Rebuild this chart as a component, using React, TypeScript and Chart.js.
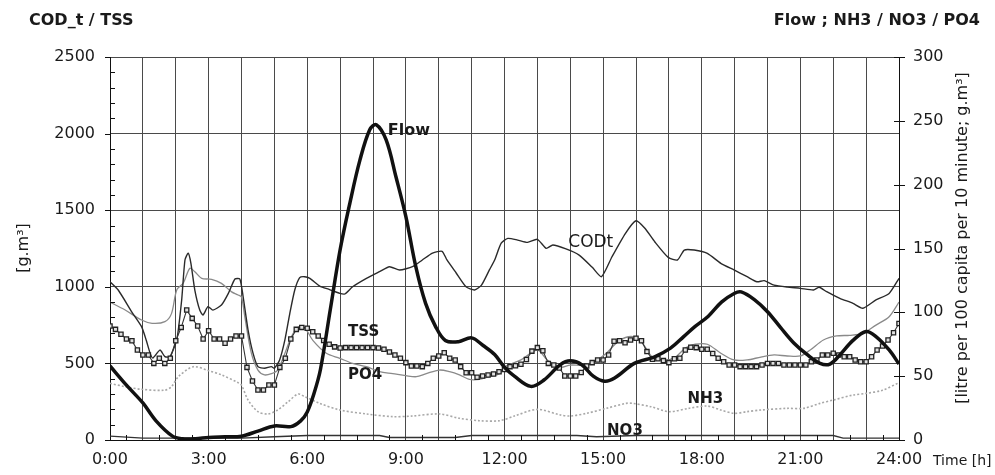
import React, { useEffect, useRef } from "react";
import { Chart, registerables } from "chart.js";

Chart.register(...registerables);

// ---------- data ----------
const flowHours = [0, 0.5, 1.0, 1.4, 1.9, 2.2, 2.6, 3.0, 3.5, 4.0, 4.5, 5.0, 5.5, 5.8, 6.0, 6.2, 6.4, 6.7, 7.0, 7.3, 7.6, 7.9, 8.1, 8.4, 8.7, 9.0, 9.3, 9.6, 9.9, 10.2, 10.6, 11.0, 11.35, 11.7, 12.0, 12.3, 12.8, 13.2, 13.7, 14.0, 14.35, 14.7, 15.05, 15.35, 15.95, 16.55, 17.05, 17.45, 17.8, 18.2, 18.6, 19.0, 19.2, 19.6, 20.0, 20.4, 20.8, 21.2, 21.6, 21.9, 22.2, 22.6, 23.0, 23.3, 23.7, 24];
const flowValues = [58, 43, 29, 15, 3, 1, 1, 2, 2.5, 3, 7, 11, 10.5, 15, 22, 36, 55, 102, 149, 186, 219, 243, 247, 235, 206, 175, 136, 107, 89, 78, 77, 80, 74, 67, 57, 50, 42, 47, 59, 62, 59, 50, 46, 48.5, 60, 65, 72, 81, 89, 97, 108, 115, 116, 110, 100.5, 88, 76, 67, 60, 59.5, 66.6, 78, 85, 81, 70.5, 59.5];

const codHours = [0, 0.25, 0.66, 0.96, 1.1, 1.22, 1.3, 1.52, 1.67, 1.82, 2.03, 2.18, 2.28, 2.38, 2.46, 2.58, 2.73, 2.83, 2.98, 3.13, 3.39, 3.6, 3.8, 3.95, 4.05, 4.2, 4.35, 4.5, 4.7, 4.91, 5.0, 5.16, 5.32, 5.47, 5.62, 5.77, 5.92, 6.08, 6.38, 6.68, 6.99, 7.14, 7.38, 7.8, 8.2, 8.5, 8.81, 9.2, 9.5, 9.81, 10.1, 10.25, 10.53, 10.83, 11.09, 11.3, 11.54, 11.7, 11.9, 12.1, 12.4, 12.7, 13.0, 13.27, 13.47, 13.87, 14.27, 14.67, 14.95, 15.27, 15.68, 16.0, 16.27, 16.57, 16.98, 17.26, 17.47, 17.77, 18.17, 18.58, 18.98, 19.38, 19.68, 19.9, 20.2, 20.6, 21.0, 21.4, 21.57, 21.8, 22.2, 22.6, 22.9, 23.3, 23.7, 24];
const codValues = [1033, 979, 837, 740, 653, 567, 535, 587, 544, 544, 653, 914, 1175, 1220, 1155, 979, 848, 816, 870, 848, 881, 957, 1051, 1051, 935, 718, 567, 479, 468, 479, 468, 522, 653, 827, 979, 1060, 1066, 1055, 1005, 982, 957, 953, 1000, 1055, 1099, 1131, 1110, 1131, 1175, 1220, 1232, 1175, 1090, 1000, 979, 1011, 1110, 1175, 1285, 1316, 1305, 1290, 1310, 1251, 1273, 1247, 1207, 1127, 1066, 1196, 1349, 1431, 1382, 1294, 1192, 1175, 1240, 1240, 1218, 1153, 1110, 1066, 1033, 1040, 1011, 998, 990, 979, 997, 968, 925, 892, 860, 914, 957, 1055];

// TSS sampled every 10 minutes, 0:00 .. 24:00
const tssValues = [
  744, 722, 690, 659, 648, 587, 555, 555, 500, 533, 500, 533,
  648, 735, 848, 794, 744, 659, 713, 659, 659, 631, 659, 679,
  679, 474, 385, 326, 326, 359, 359, 474, 533, 659, 722, 735,
  729, 707, 679, 650, 625, 608, 600, 603, 603, 603, 603, 603,
  603, 600, 592, 575, 555, 533, 505, 483, 483, 479, 500, 533,
  548, 570, 533, 522, 479, 439, 439, 409, 418, 424, 431, 445,
  460, 479, 485, 495, 525, 580, 603, 583, 500, 490, 470, 418,
  418, 418, 440, 483, 505, 522, 522, 555, 645, 648, 635, 653,
  664, 648, 577, 527, 530, 518, 505, 530, 533, 587, 605, 603,
  592, 592, 565, 533, 511, 490, 490, 479, 479, 479, 479, 490,
  500, 500, 500, 490, 490, 490, 490, 490, 511, 522, 555, 555,
  566, 555, 544, 544, 522, 511, 511, 544, 587, 613, 653, 700,
  761
];
const tssStepHours = 10 / 60;

const po4Hours = [0, 0.45, 0.96, 1.28, 1.67, 1.87, 2.03, 2.23, 2.43, 2.58, 2.79, 3.09, 3.39, 3.7, 3.9, 4.0, 4.1, 4.3, 4.5, 4.7, 4.91, 5.1, 5.32, 5.52, 5.72, 5.92, 6.17, 6.58, 6.99, 7.38, 7.8, 8.2, 8.6, 9.0, 9.32, 9.62, 10.02, 10.33, 10.63, 10.93, 11.24, 11.54, 11.85, 12.0, 12.5, 13.0, 13.3, 13.7, 14.0, 14.4, 14.8, 15.1, 15.5, 15.9, 16.2, 16.5, 16.9, 17.2, 17.5, 17.8, 18.17, 18.58, 18.98, 19.38, 19.8, 20.2, 20.6, 21.0, 21.3, 21.7, 22.1, 22.5, 22.9, 23.3, 23.7, 24];
const po4Values = [108, 102, 94, 91.4, 92.7, 99, 117.5, 123, 134.5, 131.8, 126.6, 125.9, 122.7, 116, 113.6, 112, 96.6, 68, 54.8, 51, 52, 54.8, 67.9, 81, 88.3, 88, 78, 67.9, 64, 60, 57.4, 53.5, 52, 50.4, 49.6, 52, 54.8, 53.5, 51, 47.5, 47.5, 49.6, 52, 57.4, 62.7, 70.5, 62.7, 57, 58.7, 58.7, 62.7, 68, 78, 81, 75.7, 65, 62.7, 65, 72, 75, 75, 68, 62.7, 62.7, 65, 66.6, 65.8, 65.8, 70.5, 78.3, 81.5, 82, 83.5, 90, 96.6, 108];

const nh3Hours = [0, 0.45, 0.96, 1.67, 1.87, 2.08, 2.53, 3.0, 3.39, 3.9, 4.0, 4.2, 4.5, 4.8, 5.1, 5.42, 5.72, 5.92, 6.38, 6.99, 7.8, 8.6, 9.2, 10.02, 10.63, 11.24, 11.85, 12.3, 13.0, 13.7, 14.0, 14.5, 15.1, 15.7, 15.9, 16.45, 17.0, 17.6, 18.17, 18.58, 18.98, 19.38, 19.8, 20.6, 21.1, 21.6, 22.0, 22.6, 23.0, 23.5, 24];
const nh3Values = [44.4, 41.8, 39.7, 39, 41.8, 49.6, 57.4, 54.3, 51, 44.9, 43, 31.3, 22.2, 20.4, 23.5, 30, 36, 34, 28.7, 23.5, 20.4, 18.3, 18.8, 20.4, 17, 15.1, 15.1, 18.8, 24, 19.6, 18.8, 20.9, 24.8, 28.7, 28.7, 26.1, 22.2, 24.8, 26.6, 23.5, 20.9, 22.2, 23.5, 24.8, 24.8, 28.7, 31.3, 35.2, 36.5, 39, 44.9];

const no3Hours = [0, 1.0, 2.0, 4.0, 5.0, 6.0, 8.2, 8.5, 10.5, 11.0, 14.2, 14.8, 16.0, 22.0, 22.3, 24];
const no3Values = [3, 1.5, 1.5, 1.5, 2.5, 3.5, 3.5, 2, 2, 3.5, 3.5, 2.5, 3.5, 3.5, 1.5, 1.5];

// axis ticks
const xLabelEvery = 3;
const leftMax = 2500;
const leftStep = 500;
const leftMinorStep = 100;
const rightMax = 300;
const rightStep = 50;

// in-plot series labels: text, hour, level on the left axis
const seriesLabels = [
  { text: "Flow", h: 8.45, v: 2017, bold: true, size: 16 },
  { text: "CODt", h: 13.94, v: 1286, bold: false, size: 17 },
  { text: "TSS", h: 7.24, v: 702, bold: true, size: 15 },
  { text: "PO4", h: 7.24, v: 424, bold: true, size: 15 },
  { text: "NH3", h: 17.57, v: 264, bold: true, size: 15 },
  { text: "NO3", h: 15.12, v: 61, bold: true, size: 15 },
];

const FONT = "'DejaVu Sans', 'Liberation Sans', sans-serif";

const zip = (xs: number[], ys: number[]) => xs.map((x, i) => ({ x, y: ys[i] }));

const decorPlugin = {
  id: "decor",
  afterDraw(chart: any) {
    const { ctx, chartArea, scales } = chart;
    const xs = scales.x, ys = scales.y, y1 = scales.y1;
    const { left, right, bottom } = chartArea;
    ctx.save();
    ctx.strokeStyle = "#111";
    ctx.lineWidth = 1;
    ctx.beginPath();
    for (let v = 0; v <= leftMax; v += leftMinorStep) {
      const py = Math.round(ys.getPixelForValue(v)) + 0.5;
      if (v % leftStep === 0) {
        ctx.moveTo(left - 5, py);
        ctx.lineTo(left, py);
      } else {
        ctx.moveTo(left, py);
        ctx.lineTo(left + 5, py);
      }
    }
    for (let v = 0; v <= rightMax; v += rightStep) {
      const py = Math.round(y1.getPixelForValue(v)) + 0.5;
      ctx.moveTo(right - 5, py);
      ctx.lineTo(right + 6, py);
    }
    for (let h = 0.5; h < 24; h += 1) {
      const px = Math.round(xs.getPixelForValue(h)) + 0.5;
      ctx.moveTo(px, bottom);
      ctx.lineTo(px, bottom - 5);
    }
    ctx.stroke();

    ctx.fillStyle = "#1a1a1a";
    ctx.textBaseline = "middle";
    // top titles
    ctx.font = `bold 16px ${FONT}`;
    ctx.textAlign = "left";
    ctx.fillText("COD_t / TSS", 29, 21);
    ctx.textAlign = "right";
    ctx.fillText("Flow ; NH3 / NO3 / PO4", 980, 21);

    // axis titles
    ctx.font = `16px ${FONT}`;
    ctx.textAlign = "center";
    ctx.save();
    ctx.translate(24, 248);
    ctx.rotate(-Math.PI / 2);
    ctx.fillText("[g.m³]", 0, 0);
    ctx.restore();
    ctx.save();
    ctx.translate(963, 238);
    ctx.rotate(-Math.PI / 2);
    ctx.fillText("[litre per 100 capita per 10 minute; g.m³]", 0, 0);
    ctx.restore();

    ctx.font = `14px ${FONT}`;
    ctx.textAlign = "left";
    ctx.fillText("Time [h]", 933, 461);

    // series labels
    for (const l of seriesLabels) {
      ctx.font = `${l.bold ? "bold " : ""}${l.size}px ${FONT}`;
      ctx.fillText(l.text, xs.getPixelForValue(l.h), ys.getPixelForValue(l.v));
    }
    ctx.restore();
  },
};

export default function App() {
  const ref = useRef<HTMLCanvasElement>(null);
  useEffect(() => {
    const canvas = ref.current!;
    const chart = new Chart(canvas, {
      type: "line",
      data: {
        datasets: [
          {
            label: "Flow",
            data: zip(flowHours, flowValues),
            yAxisID: "y1",
            borderColor: "#111",
            borderWidth: 3.5,
            pointRadius: 0,
            tension: 0.35,
          },
          {
            label: "TSS",
            data: tssValues.map((v, i) => ({ x: i * tssStepHours, y: v })),
            yAxisID: "y",
            borderColor: "#333",
            borderWidth: 1.1,
            pointStyle: "rect",
            pointRadius: 3,
            pointBorderWidth: 1.3,
            pointBorderColor: "#222",
            pointBackgroundColor: "#e0e0e0",
            tension: 0,
          },
          {
            label: "CODt",
            data: zip(codHours, codValues),
            yAxisID: "y",
            borderColor: "#2a2a2a",
            borderWidth: 1.4,
            pointRadius: 0,
            tension: 0.2,
          },
          {
            label: "PO4",
            data: zip(po4Hours, po4Values),
            yAxisID: "y1",
            borderColor: "#8a8a8a",
            borderWidth: 1.3,
            pointRadius: 0,
            tension: 0.3,
          },
          {
            label: "NH3",
            data: zip(nh3Hours, nh3Values),
            yAxisID: "y1",
            borderColor: "#a8a8a8",
            borderWidth: 1.6,
            borderDash: [2, 2],
            pointRadius: 0,
            tension: 0.3,
          },
          {
            label: "NO3",
            data: zip(no3Hours, no3Values),
            yAxisID: "y1",
            borderColor: "#333",
            borderWidth: 1.4,
            pointRadius: 0,
            tension: 0,
          },
        ],
      },
      options: {
        animation: false,
        responsive: false,
        layout: { padding: { top: 57, left: 0, right: 0, bottom: 0 } },
        plugins: { legend: { display: false }, tooltip: { enabled: false } },
        scales: {
          x: {
            type: "linear",
            min: 0,
            max: 24,
            afterFit: (s: any) => { s.height = 35; },
            ticks: {
              stepSize: 1,
              autoSkip: false,
              maxRotation: 0,
              padding: 10,
              color: "#1a1a1a",
              font: { family: FONT, size: 16 },
              callback: (v: any) => (Number(v) % xLabelEvery === 0 ? `${v}:00` : ""),
            },
            grid: { color: "#4a4a4a", lineWidth: 1, drawTicks: false },
            border: { display: true, color: "#111", width: 1 },
          },
          y: {
            type: "linear",
            position: "left",
            min: 0,
            max: leftMax,
            afterFit: (s: any) => { s.width = 110; },
            ticks: {
              stepSize: leftStep,
              padding: 15,
              color: "#1a1a1a",
              font: { family: FONT, size: 16 },
              callback: (v: any) => String(v),
            },
            grid: { color: "#4a4a4a", lineWidth: 1, drawTicks: false },
            border: { display: true, color: "#111", width: 1 },
          },
          y1: {
            type: "linear",
            position: "right",
            min: 0,
            max: rightMax,
            afterFit: (s: any) => { s.width = 96; },
            ticks: {
              stepSize: rightStep,
              padding: 14,
              color: "#1a1a1a",
              font: { family: FONT, size: 16 },
              callback: (v: any) => String(v),
            },
            grid: { drawOnChartArea: false, drawTicks: false },
            border: { display: true, color: "#111", width: 1 },
          },
        },
      },
      plugins: [decorPlugin],
    });
    return () => chart.destroy();
  }, []);
  return (
    <div style={{ position: "absolute", left: 0, top: 0, width: 995, height: 475, background: "#fff" }}>
      <canvas ref={ref} width={995} height={475} style={{ display: "block" }} />
    </div>
  );
}
